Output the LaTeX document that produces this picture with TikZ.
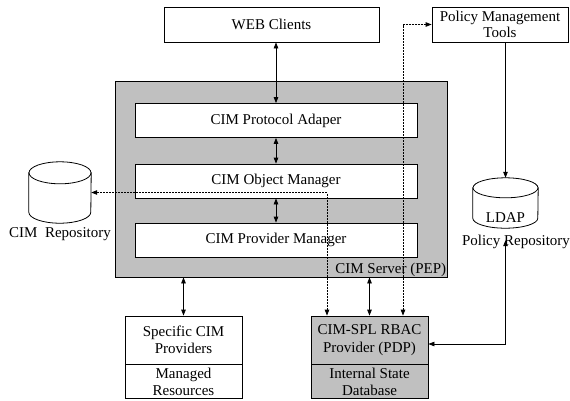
\documentclass[tikz,border=0pt]{standalone}
\usepackage{fontspec}
\setmainfont{Liberation Serif}
\usetikzlibrary{arrows.meta, positioning}
\definecolor{ink}{HTML}{000000}
\definecolor{servergray}{HTML}{C0C0C0}
\tikzset{
  font=\fontsize{15}{17.5}\selectfont,
  >={Triangle[length=6pt, width=4.5pt]},
  %
  box/.style={draw=ink, line width=0.8pt, fill=white, align=center,
              inner sep=1pt, text=ink},
  boxg/.style={box, fill=servergray},
  layer/.style={box, minimum width=282pt, minimum height=34pt},
  store/.style={inner sep=0pt},
  drum/.style={draw=ink, line width=0.8pt, fill=white},
  %
  link/.style={draw=ink, line width=0.8pt, <->},
  linkone/.style={draw=ink, line width=0.8pt, ->},
  dashlink/.style={link, dash pattern=on 2pt off 1pt},
  lbl/.style={text=ink, inner sep=1pt},
}
% outline of a drum round a named node: node, x radius, y radius
\newcommand{\drumround}[3]{%
  \path[drum] ([yshift=-#3]#1.north west) -- ([yshift=#3]#1.south west)
    arc[start angle=180, end angle=360, x radius=#2, y radius=#3]
    -- ([yshift=-#3]#1.north east) -- cycle;
  \path[drum] ([yshift=-#3]#1.north) ellipse[x radius=#2, y radius=#3];
}
\begin{document}
\begin{tikzpicture}[x=1pt, y=-1pt]
  \useasboundingbox (0,0) rectangle (570,400);

  % top row
  \node[box, minimum width=215pt, minimum height=35pt] (web) at (271.5,24.5)
    {WEB Clients};
  \node[box, minimum width=136pt, minimum height=35pt] (tools) at (500,24.5)
    {Policy Management\\[-1pt]Tools};

  % the server and its three layers
  \node[boxg, minimum width=332pt, minimum height=196pt] (server) at (281,179) {};
  \node[layer] (adapter) at (276,120.5) {CIM Protocol Adaper};
  \node[layer] (objmgr)  at (276,181)   {CIM Object Manager};
  \node[layer] (provmgr) at (276,240)   {CIM Provider Manager};
  \node[lbl, anchor=south east] (pep) at (server.south east) {CIM Server (PEP)};

  % repositories
  \node[store, minimum width=62pt, minimum height=61pt] (repo) at (60,192.5) {};
  \drumround{repo}{31pt}{11pt}
  \node[lbl] (repolbl) at (60,234) {CIM\ \ Repository};
  \node[store, minimum width=65pt, minimum height=50pt] (ldap) at (505.5,203) {};
  \drumround{ldap}{32.5pt}{10pt}
  \node[lbl] (ldaptext) at (505.5,218) {LDAP};
  \node[lbl] (ldaplbl) at (516,242) {Policy Repository};

  % providers
  \node[box, minimum width=117pt, minimum height=48pt] (spec) at (183.5,340)
    {Specific CIM\\Providers};
  \node[box, minimum width=117pt, minimum height=34pt, below=0pt of spec] (managed)
    {Managed\\Resources};
  \node[boxg, minimum width=117pt, minimum height=48pt] (pdp) at (369.5,340)
    {CIM-SPL RBAC\\Provider (PDP)};
  \node[boxg, minimum width=117pt, minimum height=34pt, below=0pt of pdp] (pdpdb)
    {Internal State\\Database};

  % connectors
  \draw[link] (adapter.north |- web.south) -- (adapter.north);
  \draw[link] (adapter) -- (objmgr);
  \draw[link] (objmgr) -- (provmgr);
  \draw[link] (spec.north |- server.south) -- (spec.north);
  \draw[link] (pdp.north |- server.south) -- (pdp.north);
  \draw[linkone] (tools.south -| ldap.north) -- (ldap.north);
  \draw[link] ([yshift=-12pt]ldap.south) |- ([yshift=-4pt]pdp.east);
  \draw[dashlink] (repo.east) -| ([xshift=-42.5pt]pdp.north);
  \draw[dashlink] ([xshift=33.5pt]pdp.north) |- (tools.west);

\end{tikzpicture}
\end{document}
